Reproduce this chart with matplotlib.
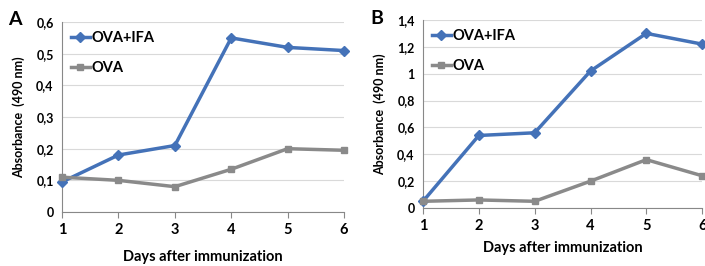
import matplotlib
matplotlib.use("Agg")
import matplotlib.pyplot as plt
from matplotlib.ticker import FuncFormatter

plt.rcParams['font.family'] = ['Lato', 'DejaVu Sans']
plt.rcParams['font.weight'] = 'bold'

# === Data ===
days = [1, 2, 3, 4, 5, 6]
ova_ifa_a = [0.095, 0.18, 0.21, 0.55, 0.52, 0.51]
ova_a = [0.11, 0.10, 0.08, 0.135, 0.20, 0.195]
ova_ifa_b = [0.05, 0.54, 0.56, 1.02, 1.30, 1.22]
ova_b = [0.05, 0.06, 0.05, 0.20, 0.36, 0.24]

yticks_a = [0, 0.1, 0.2, 0.3, 0.4, 0.5, 0.6]
yticks_b = [0, 0.2, 0.4, 0.6, 0.8, 1.0, 1.2, 1.4]

blue = "#4472b8"
gray = "#8a8a8a"


def comma(v, pos):
    s = ("%.1f" % v).rstrip("0").rstrip(".")
    return s.replace(".", ",")


fig = plt.figure(figsize=(7.05, 2.66), dpi=100)
ax_a = fig.add_axes([0.088, 0.203, 0.400, 0.714])
ax_b = fig.add_axes([0.600, 0.218, 0.396, 0.707])

panels = [
    (ax_a, ova_ifa_a, ova_a, yticks_a, 0.6, 9),
    (ax_b, ova_ifa_b, ova_b, yticks_b, 1.4, 6),
]

for ax, s1, s2, yt, ymax, xpad in panels:
    ax.plot(days, s1, color=blue, lw=2.5, marker="D", ms=5, label="OVA+IFA", clip_on=False, zorder=3)
    ax.plot(days, s2, color=gray, lw=2.5, marker="s", ms=5, label="OVA", clip_on=False, zorder=3)
    ax.set_xlim(1, 6)
    ax.set_ylim(0, ymax)
    ax.set_xticks(days)
    ax.set_yticks(yt)
    ax.yaxis.set_major_formatter(FuncFormatter(comma))
    ax.grid(axis="y", color="#d9d9d9", lw=0.8)
    ax.set_axisbelow(True)
    for side in ["top", "right"]:
        ax.spines[side].set_visible(False)
    ax.spines["left"].set_color("#888888")
    ax.spines["bottom"].set_color("#888888")
    ax.tick_params(axis="y", length=0, labelsize=9, pad=6)
    ax.tick_params(axis="x", length=4, color="#888888", labelsize=10.5, pad=4)
    ax.set_xlabel("Days after immunization", fontsize=10.5, fontweight="bold", labelpad=xpad)
    ax.set_ylabel("Absorbance  (490 nm)", fontsize=9, fontweight="bold", labelpad=8)
    ax.legend(loc="upper left", frameon=False, fontsize=10.5, handlelength=1.3,
              handletextpad=0.1, labelspacing=1.1, borderaxespad=0.2)

fig.text(0.011, 0.925, "A", fontsize=14, fontweight="bold", va="center")
fig.text(0.525, 0.932, "B", fontsize=14, fontweight="bold", va="center")

plt.savefig("out.png", dpi=100)
